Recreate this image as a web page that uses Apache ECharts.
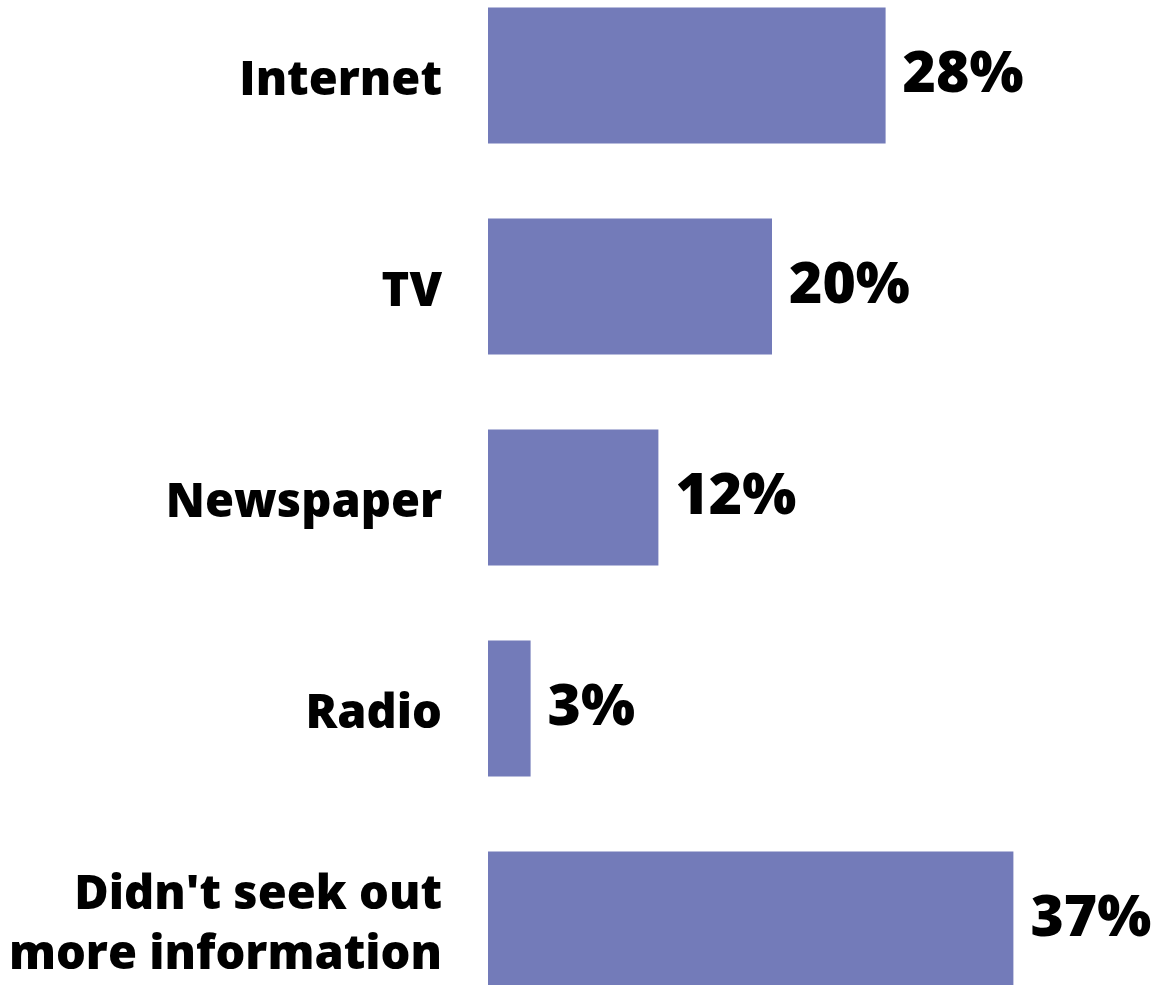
<!DOCTYPE html>
<html>
<head>
<meta charset="utf-8">
<script src="https://cdn.jsdelivr.net/npm/echarts@6/dist/echarts.min.js"></script>
<style>
  html, body { margin: 0; padding: 0; background: #fff; }
  #chart { width: 1154px; height: 985px; }
</style>
</head>
<body>
<div id="chart"></div>
<script>
// Where people went for more information (share of respondents, %)
const categories = ['Internet', 'TV', 'Newspaper', 'Radio', "Didn't seek out\nmore information"];
const shares = [28, 20, 12, 3, 37];

const FONT = '"Open Sans", "DejaVu Sans", sans-serif';

const chart = echarts.init(document.getElementById('chart'), null, { renderer: 'canvas' });
chart.setOption({
  backgroundColor: '#ffffff',
  animation: false,
  grid: {
    left: 488, right: 98, top: -30, height: 1055,
    containLabel: false,
    outerBoundsMode: 'none'
  },
  xAxis: {
    type: 'value', min: 0, max: 40,
    show: false
  },
  yAxis: {
    type: 'category',
    data: categories,
    inverse: true,
    axisLine: { show: false },
    axisTick: { show: false },
    axisLabel: {
      margin: 46,
      align: 'right',
      // each line sits a little low of the band centre
      formatter: (v) => v.split('\n').map((s) => '{c|' + s + '}').join('\n'),
      rich: {
        c: {
          color: '#000',
          fontFamily: FONT,
          fontWeight: 800,
          fontSize: 47,
          lineHeight: 60,
          padding: [12, 0, 0, 0]
        }
      }
    }
  },
  series: [{
    type: 'bar',
    data: shares,
    barWidth: 136,
    itemStyle: { color: '#737bb9' },
    label: {
      show: true,
      position: 'right',
      distance: 17,
      formatter: '{c}%',
      color: '#000',
      fontFamily: FONT,
      fontWeight: 800,
      fontSize: 57
    }
  }]
});
</script>
</body>
</html>
